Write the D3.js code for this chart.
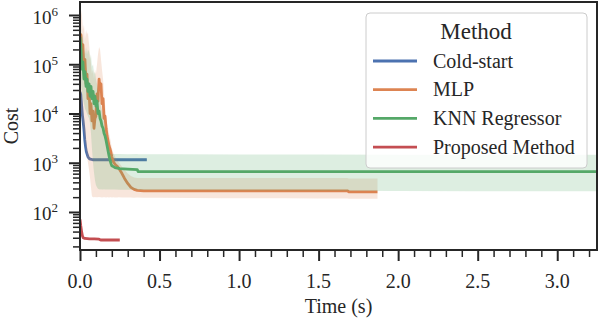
<!DOCTYPE html>
<html><head><meta charset="utf-8">
<script src="https://cdn.jsdelivr.net/npm/d3@7"></script>
<style>body{margin:0;background:#fff}</style>
</head><body>
<svg id="chart" width="598" height="319"></svg>
<script>
// ---------------- data ----------------
const seriesNames = ["Cold-start", "MLP", "KNN Regressor", "Proposed Method"];
const seriesColors = ["#4c72b0", "#dd8452", "#55a868", "#c44e52"];
const legendTitle = "Method";
const xLabel = "Time (s)";
const yLabel = "Cost";
const xMajorTicks = [0, 0.5, 1, 1.5, 2, 2.5, 3];
const xTickLabels = ["0.0", "0.5", "1.0", "1.5", "2.0", "2.5", "3.0"];
const xMinorTicks = [0.1,0.2,0.3,0.4,0.6,0.7,0.8,0.9,1.1,1.2,1.3,1.4,1.6,1.7,1.8,1.9,2.1,2.2,2.3,2.4,2.6,2.7,2.8,2.9,3.1,3.2];
const yMajorExponents = [2, 3, 4, 5, 6];
const yMinorMultipliers = [2, 3, 4, 5, 6, 7, 8, 9];
const xDomain = [0, 3.25];
const yDomain = [16.9, 1.837e6];

const coldTime = [0, 0.005, 0.01, 0.015, 0.02, 0.025, 0.03, 0.035, 0.04, 0.05, 0.06, 0.08, 0.1, 0.2, 0.3, 0.42];
const coldMean = [27500, 24000, 14800, 9300, 6800, 4700, 2900, 2100, 1660, 1320, 1200, 1150, 1150, 1150, 1150, 1150];
const coldLow  = [22000, 19000, 11500, 7200, 5300, 3700, 2400, 1800, 1450, 1200, 1120, 1100, 1110, 1110, 1100, 1110];
const coldHigh = [34000, 30000, 19000, 12000, 8800, 6000, 3600, 2500, 1900, 1450, 1290, 1210, 1190, 1200, 1190, 1200];

const mlpTime = [0, 0.006, 0.012, 0.018, 0.025, 0.031, 0.038, 0.044, 0.05, 0.057, 0.063, 0.069, 0.075, 0.082, 0.088, 0.094, 0.1, 0.107, 0.113, 0.12, 0.126, 0.132, 0.138, 0.145, 0.151, 0.157, 0.164, 0.17, 0.176, 0.182, 0.189, 0.195, 0.2, 0.21, 0.22, 0.233, 0.245, 0.264, 0.28, 0.3, 0.32, 0.34, 0.36, 0.4, 0.5, 0.7, 0.9, 1.1, 1.3, 1.5, 1.68, 1.69, 1.87];
const mlpMean = [2.0e5, 3.98e5, 1.26e5, 2.51e5, 7.94e4, 1.26e5, 3.98e4, 6.31e4, 2.0e4, 3.16e4, 1.0e4, 1.58e4, 7080, 1.12e4, 5010, 7940, 8910, 2.51e4, 1.78e4, 5.01e4, 3.16e4, 3.98e4, 1.58e4, 2.0e4, 7940, 8910, 5010, 3550, 2820, 2240, 1905, 1585, 1318, 1047, 933, 851, 759, 603, 479, 380, 316, 288, 275, 269, 269, 269, 269, 269, 269, 269, 269, 257, 257];
const mlpLow  = [2.0e4, 1.26e4, 8910, 6310, 4470, 3160, 2000, 1410, 1000, 708, 501, 316, 209, 200, 199, 201, 198, 200, 199, 201, 198, 200, 197, 199, 198, 200, 197, 199, 198, 197, 199, 198, 197, 198, 196, 197, 198, 196, 197, 196, 197, 195, 196, 195, 195, 193, 191, 190, 189, 188, 187, 186, 186];
const mlpHigh = [7.94e5, 1.26e6, 1.0e6, 5.01e5, 6.31e5, 3.16e5, 5.01e5, 3.98e5, 4.47e5, 2.51e5, 1.58e5, 1.0e5, 6.31e4, 7.94e4, 5.01e4, 7.94e4, 6.31e4, 1.0e5, 1.58e5, 2.24e5, 2.0e5, 1.26e5, 7.94e4, 5.01e4, 2.51e4, 1.58e4, 8910, 6310, 5010, 3980, 3160, 2510, 2000, 1580, 1320, 1120, 1000, 832, 708, 603, 537, 501, 490, 490, 490, 488, 490, 487, 489, 488, 487, 480, 480];

const knnTime = [0, 0.006, 0.012, 0.018, 0.025, 0.031, 0.038, 0.044, 0.05, 0.057, 0.063, 0.069, 0.075, 0.082, 0.088, 0.094, 0.1, 0.107, 0.113, 0.12, 0.126, 0.132, 0.138, 0.145, 0.151, 0.157, 0.164, 0.17, 0.176, 0.182, 0.189, 0.195, 0.2, 0.21, 0.22, 0.25, 0.3, 0.36, 0.365, 0.6, 1.0, 1.5, 2.0, 2.5, 3.0, 3.3];
const knnMean = [3.55e5, 2.0e5, 7.94e4, 1.12e5, 5.01e4, 7.08e4, 3.55e4, 5.01e4, 2.82e4, 3.98e4, 2.24e4, 3.55e4, 2.0e4, 2.82e4, 1.58e4, 2.24e4, 1.41e4, 1.78e4, 1.0e4, 1.12e4, 7940, 7080, 5620, 5010, 3980, 3550, 2820, 2240, 1780, 1410, 1120, 955, 871, 832, 794, 759, 741, 724, 661, 661, 661, 661, 661, 661, 661, 661];
const knnLow  = [7.94e4, 3.98e4, 2.51e4, 2.0e4, 1.58e4, 1.26e4, 1.12e4, 1.0e4, 8910, 7940, 6310, 3980, 2000, 1000, 631, 447, 355, 316, 295, 288, 287, 288, 286, 287, 288, 286, 287, 286, 287, 286, 285, 286, 285, 286, 285, 284, 283, 282, 281, 278, 274, 270, 267, 265, 263, 263];
const knnHigh = [7.94e5, 6.31e5, 3.16e5, 3.98e5, 2.0e5, 1.58e5, 2.24e5, 1.58e5, 2.0e5, 1.78e5, 1.26e5, 1.58e5, 8.91e4, 1.0e5, 6.31e4, 7.08e4, 5.01e4, 3.98e4, 2.82e4, 2.51e4, 1.78e4, 1.41e4, 1.12e4, 8910, 7080, 5010, 3550, 2630, 2140, 1780, 1580, 1510, 1510, 1500, 1510, 1500, 1490, 1500, 1490, 1480, 1470, 1470, 1460, 1460, 1450, 1450];

const propTime = [0, 0.005, 0.01, 0.015, 0.02, 0.03, 0.045, 0.06, 0.09, 0.12, 0.13, 0.18, 0.25];
const propMean = [71, 52, 40, 33, 30, 29, 28.8, 28.5, 28.3, 28, 27, 27, 27];
const propLow  = [65, 47, 37, 31, 28.5, 27.8, 27.6, 27.4, 27.2, 26.9, 26, 26, 26];
const propHigh = [78, 57, 43, 35, 31.5, 30.2, 30, 29.6, 29.4, 29.1, 28, 28, 28];

// ---------------- build ----------------
const seriesTime = [coldTime, mlpTime, knnTime, propTime];
const seriesMean = [coldMean, mlpMean, knnMean, propMean];
const seriesLow  = [coldLow, mlpLow, knnLow, propLow];
const seriesHigh = [coldHigh, mlpHigh, knnHigh, propHigh];

const W = 598, H = 319;
const margin = {left: 80, right: 1, top: 2, bottom: 69};
const svg = d3.select("#chart");
const x = d3.scaleLinear().domain(xDomain).range([margin.left, W - margin.right]);
const y = d3.scaleLog().domain(yDomain).range([H - margin.bottom, margin.top]);
const font = "'Liberation Serif', 'Times New Roman', serif";
const ink = "#262626";

svg.append("defs").append("clipPath").attr("id", "plotclip")
  .append("rect").attr("x", x.range()[0]).attr("y", y.range()[1])
  .attr("width", x.range()[1] - x.range()[0]).attr("height", y.range()[0] - y.range()[1]);

const plot = svg.append("g").attr("clip-path", "url(#plotclip)");

seriesNames.forEach((name, i) => {
  const pts = seriesTime[i].map((t, k) => ({t, m: seriesMean[i][k], lo: seriesLow[i][k], hi: seriesHigh[i][k]}));
  const line = d3.line().x(d => x(d.t)).y(d => y(d.m));
  const area = d3.area().x(d => x(d.t)).y0(d => y(d.lo)).y1(d => y(d.hi));
  plot.append("path").datum(pts).attr("d", line)
    .attr("fill", "none").attr("stroke", seriesColors[i]).attr("stroke-width", 2.8)
    .attr("stroke-linejoin", "round");
  plot.append("path").datum(pts).attr("d", area)
    .attr("fill", seriesColors[i]).attr("fill-opacity", 0.2).attr("stroke", "none");
});

// axes ticks
const y0 = y.range()[0];
const gx = svg.append("g").attr("transform", `translate(0,${y0})`);
gx.call(d3.axisBottom(x).tickValues(xMajorTicks).tickSize(11).tickFormat(""));
gx.call(g => g.select(".domain").remove());
gx.selectAll("line").attr("stroke", ink).attr("stroke-width", 2);
const gxm = svg.append("g").attr("transform", `translate(0,${y0})`);
gxm.call(d3.axisBottom(x).tickValues(xMinorTicks).tickSize(7).tickFormat(""));
gxm.call(g => g.select(".domain").remove());
gxm.selectAll("line").attr("stroke", ink).attr("stroke-width", 1.5);

svg.append("g").selectAll("text").data(xMajorTicks).join("text")
  .attr("x", d => x(d)).attr("y", 288).attr("text-anchor", "middle")
  .attr("font-family", font).attr("font-size", 20).attr("fill", ink)
  .text((d, i) => xTickLabels[i]);

const yMajor = yMajorExponents.map(e => Math.pow(10, e));
const yMinor = [];
[1, 2, 3, 4, 5, 6].forEach(e => yMinorMultipliers.forEach(m => {
  const v = m * Math.pow(10, e);
  if (v >= yDomain[0] && v <= yDomain[1]) yMinor.push(v);
}));
const x0 = x.range()[0];
const gy = svg.append("g").attr("transform", `translate(${x0},0)`);
gy.call(d3.axisLeft(y).tickValues(yMajor).tickSize(11).tickFormat(""));
gy.call(g => g.select(".domain").remove());
gy.selectAll("line").attr("stroke", ink).attr("stroke-width", 2);
const gym = svg.append("g").attr("transform", `translate(${x0},0)`);
gym.call(d3.axisLeft(y).tickValues(yMinor).tickSize(7).tickFormat(""));
gym.call(g => g.select(".domain").remove());
gym.selectAll("line").attr("stroke", ink).attr("stroke-width", 1.5);

const ylab = svg.append("g").selectAll("text").data(yMajorExponents).join("text")
  .attr("x", 58).attr("y", d => y(Math.pow(10, d)) + 8.5).attr("text-anchor", "end")
  .attr("font-family", font).attr("font-size", 19).attr("fill", ink);
ylab.append("tspan").text("10");
ylab.append("tspan").attr("dy", -8).attr("font-size", 13).text(d => d);

// frame
svg.append("rect").attr("x", x.range()[0]).attr("y", y.range()[1])
  .attr("width", x.range()[1] - x.range()[0]).attr("height", y.range()[0] - y.range()[1])
  .attr("fill", "none").attr("stroke", ink).attr("stroke-width", 2);

// axis labels
svg.append("text").attr("x", (x.range()[0] + x.range()[1]) / 2).attr("y", 313)
  .attr("text-anchor", "middle").attr("font-family", font).attr("font-size", 20).attr("fill", ink)
  .text(xLabel);
svg.append("text").attr("transform", `translate(18,${(y.range()[0] + y.range()[1]) / 2}) rotate(-90)`)
  .attr("text-anchor", "middle").attr("font-family", font).attr("font-size", 20).attr("fill", ink)
  .text(yLabel);

// legend
const lg = svg.append("g");
lg.append("rect").attr("x", 366).attr("y", 13).attr("width", 221).attr("height", 155).attr("rx", 4)
  .attr("fill", "#fff").attr("fill-opacity", 0.8).attr("stroke", "#cccccc").attr("stroke-width", 1);
lg.append("text").attr("x", 476).attr("y", 39).attr("text-anchor", "middle")
  .attr("font-family", font).attr("font-size", 23).attr("fill", ink).text(legendTitle);
seriesNames.forEach((name, i) => {
  const yy = 61 + i * 28.7;
  lg.append("line").attr("x1", 373).attr("x2", 417).attr("y1", yy).attr("y2", yy)
    .attr("stroke", seriesColors[i]).attr("stroke-width", 2.8);
  lg.append("text").attr("x", 433).attr("y", yy + 6.5)
    .attr("font-family", font).attr("font-size", 20).attr("fill", ink).text(name);
});
</script>
</body></html>
